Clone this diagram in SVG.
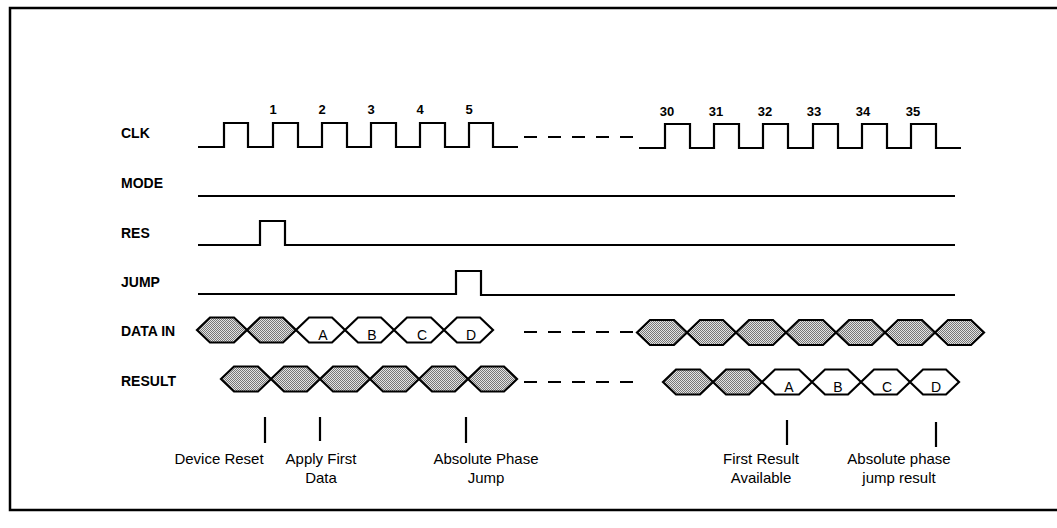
<svg xmlns="http://www.w3.org/2000/svg" width="1057" height="528" viewBox="0 0 1057 528">
<style>
text{font-family:"Liberation Sans",Arial,sans-serif;fill:#000}
.lbl{font-size:14px;font-weight:bold}
.num{font-size:13px;font-weight:bold;text-anchor:middle}
.ann{font-size:15px;text-anchor:middle}
.hx{font-size:14px;text-anchor:middle}
.wave{fill:none;stroke:#000;stroke-width:2.2;stroke-linejoin:miter}
.dash{fill:none;stroke:#000;stroke-width:2.2;stroke-dasharray:13 11}
.sh{fill:url(#dots);stroke:#000;stroke-width:2.2;stroke-linejoin:miter}
.wh{fill:#fff;stroke:#000;stroke-width:2.2;stroke-linejoin:miter}
.tick{stroke:#000;stroke-width:2.2}
</style>
<defs>
<pattern id="dots" width="2" height="2" patternUnits="userSpaceOnUse">
<rect width="2" height="2" fill="#e4e4e4"/>
<rect width="1" height="1" fill="#777"/>
<rect x="1" y="1" width="1" height="1" fill="#777"/>
</pattern>
</defs>
<rect width="1057" height="528" fill="#fff"/>
<path d="M1057,8 H10 V510 H1057" fill="none" stroke="#000" stroke-width="2.5"/>

<g id="clk">
<text class="lbl" x="121" y="138">CLK</text>
<path class="wave" d="M198,147 H224 V123 H248 V147 H273 V123 H298 V147 H322 V123 H347 V147 H371 V123 H396 V147 H420 V123 H445 V147 H469 V123 H493 V147 H518"/>
<path class="wave" d="M639,148 H665 V124 H690 V148 H714 V124 H739 V148 H763 V124 H788 V148 H813 V124 H838 V148 H862 V124 H887 V148 H911 V124 H936 V148 H961"/>
<text class="num" x="273" y="114">1</text>
<text class="num" x="322" y="114">2</text>
<text class="num" x="371" y="114">3</text>
<text class="num" x="420" y="114">4</text>
<text class="num" x="469" y="114">5</text>
<text class="num" x="667" y="116">30</text>
<text class="num" x="716" y="116">31</text>
<text class="num" x="765" y="116">32</text>
<text class="num" x="814" y="116">33</text>
<text class="num" x="863" y="116">34</text>
<text class="num" x="913" y="116">35</text>
</g>

<g id="mode">
<text class="lbl" x="121" y="188">MODE</text>
<path class="wave" d="M198,196 H955"/>
</g>

<g id="res">
<text class="lbl" x="121" y="238">RES</text>
<path class="wave" d="M198,245 H260 V221 H285 V245 H955"/>
</g>

<g id="jump">
<text class="lbl" x="121" y="287">JUMP</text>
<path class="wave" d="M198,294 H456 V271 H481 V295 H955"/>
</g>

<g id="data-in">
<text class="lbl" x="121" y="336">DATA IN</text>
<polygon class="sh" points="197,330 210,317.5 234,317.5 247,330 234,342.5 210,342.5"/>
<polygon class="sh" points="247,330 260,317.5 283,317.5 296,330 283,342.5 260,342.5"/>
<polygon class="wh" points="296,330 309,317.5 332,317.5 345,330 332,342.5 309,342.5"/>
<polygon class="wh" points="345,330 358,317.5 381,317.5 394,330 381,342.5 358,342.5"/>
<polygon class="wh" points="394,330 407,317.5 431,317.5 444,330 431,342.5 407,342.5"/>
<polygon class="wh" points="444,330 457,317.5 480,317.5 493,330 480,342.5 457,342.5"/>
<text class="hx" x="323" y="340">A</text>
<text class="hx" x="372" y="340">B</text>
<text class="hx" x="422" y="340">C</text>
<text class="hx" x="471" y="340">D</text>
<polygon class="sh" points="637,332.5 650,320 674,320 687,332.5 674,345 650,345"/>
<polygon class="sh" points="687,332.5 700,320 723,320 736,332.5 723,345 700,345"/>
<polygon class="sh" points="736,332.5 749,320 773,320 786,332.5 773,345 749,345"/>
<polygon class="sh" points="786,332.5 799,320 823,320 836,332.5 823,345 799,345"/>
<polygon class="sh" points="836,332.5 849,320 872,320 885,332.5 872,345 849,345"/>
<polygon class="sh" points="885,332.5 898,320 922,320 935,332.5 922,345 898,345"/>
<polygon class="sh" points="935,332.5 948,320 971,320 984,332.5 971,345 948,345"/>
</g>

<g id="result">
<text class="lbl" x="121" y="386">RESULT</text>
<polygon class="sh" points="221,379 234,366.5 258,366.5 271,379 258,391.5 234,391.5"/>
<polygon class="sh" points="271,379 284,366.5 307,366.5 320,379 307,391.5 284,391.5"/>
<polygon class="sh" points="320,379 333,366.5 357,366.5 370,379 357,391.5 333,391.5"/>
<polygon class="sh" points="370,379 383,366.5 406,366.5 419,379 406,391.5 383,391.5"/>
<polygon class="sh" points="419,379 432,366.5 455,366.5 468,379 455,391.5 432,391.5"/>
<polygon class="sh" points="468,379 481,366.5 504,366.5 517,379 504,391.5 481,391.5"/>
<polygon class="sh" points="663,382 676,369.5 700,369.5 713,382 700,394.5 676,394.5"/>
<polygon class="sh" points="713,382 726,369.5 749,369.5 762,382 749,394.5 726,394.5"/>
<polygon class="wh" points="762,382 775,369.5 799,369.5 812,382 799,394.5 775,394.5"/>
<polygon class="wh" points="812,382 825,369.5 848,369.5 861,382 848,394.5 825,394.5"/>
<polygon class="wh" points="861,382 874,369.5 897,369.5 910,382 897,394.5 874,394.5"/>
<polygon class="wh" points="910,382 923,369.5 946,369.5 959,382 946,394.5 923,394.5"/>
<text class="hx" x="789" y="392">A</text>
<text class="hx" x="838" y="392">B</text>
<text class="hx" x="887" y="392">C</text>
<text class="hx" x="936" y="392">D</text>
</g>

<g id="connectors">
<path class="dash" d="M524,137 H637"/>
<path class="dash" d="M524,332 H637"/>
<path class="dash" d="M524,382 H637"/>
<path class="tick" d="M265,417 V443"/>
<path class="tick" d="M320,417 V441"/>
<path class="tick" d="M466,417 V443"/>
<path class="tick" d="M787,420 V445"/>
<path class="tick" d="M936,422 V447"/>
</g>

<g id="annotations">
<text class="ann" x="219" y="464">Device Reset</text>
<text class="ann" x="321" y="464">Apply First</text>
<text class="ann" x="321" y="483">Data</text>
<text class="ann" x="486" y="464">Absolute Phase</text>
<text class="ann" x="486" y="483">Jump</text>
<text class="ann" x="761" y="464">First Result</text>
<text class="ann" x="761" y="483">Available</text>
<text class="ann" x="899" y="464">Absolute phase</text>
<text class="ann" x="899" y="483">jump result</text>
</g>
</svg>
